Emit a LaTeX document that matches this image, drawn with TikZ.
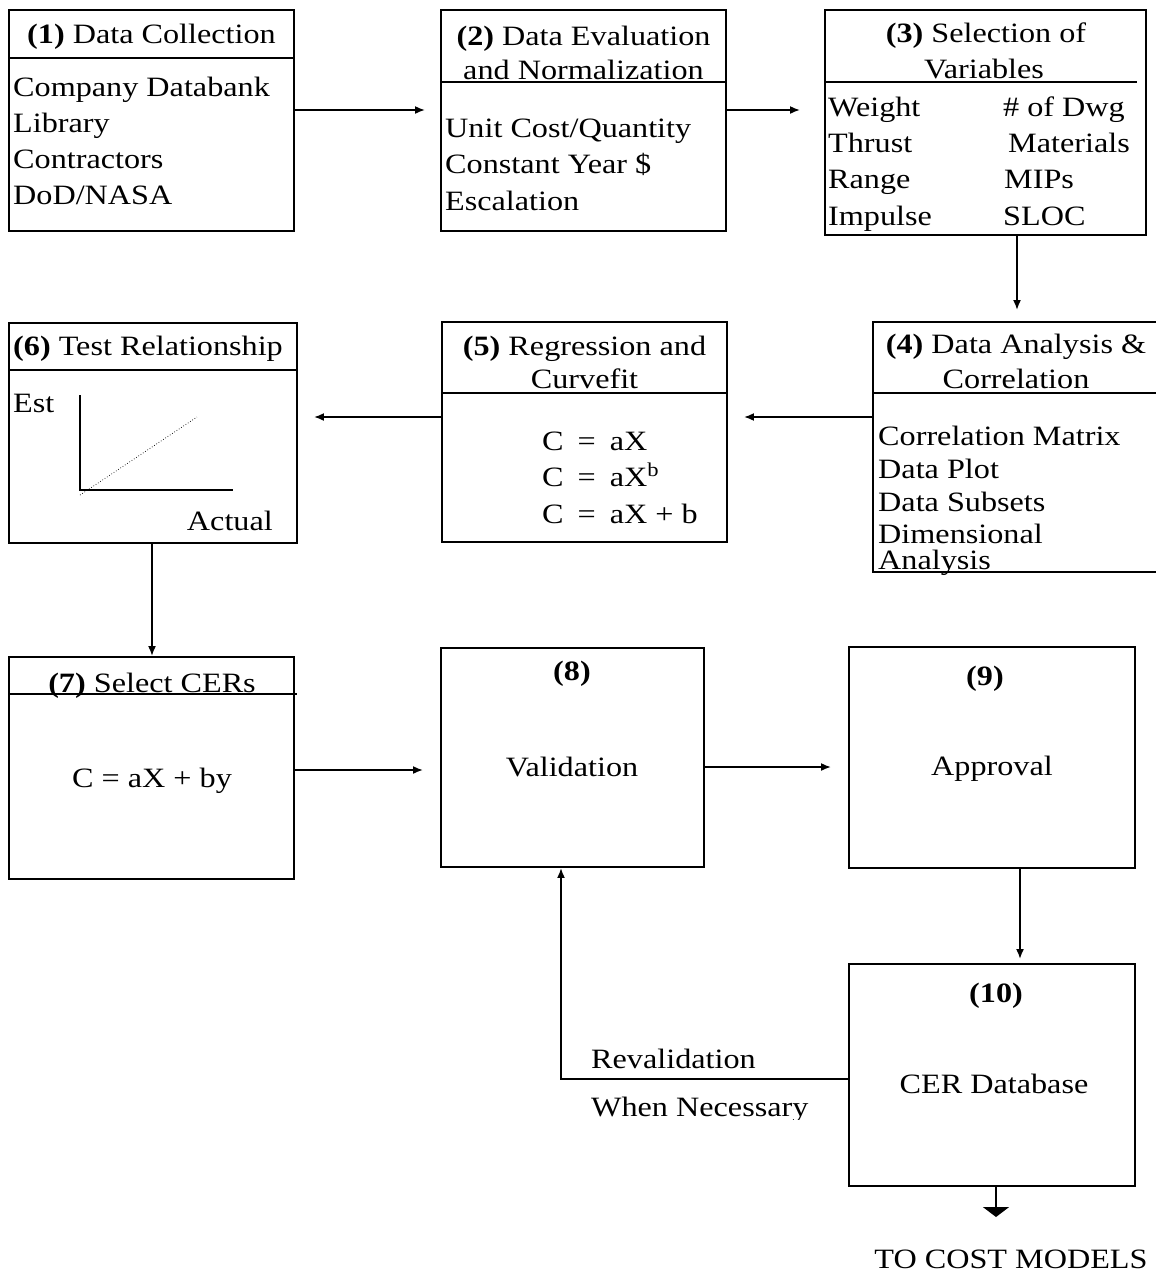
\documentclass[tikz,border=0pt]{standalone}
\usepackage{fontspec}
\setmainfont{Liberation Serif}[FakeStretch=1.15]
\usetikzlibrary{arrows.meta}
\newcommand\fsz{\fontsize{28}{36}\selectfont}
\begin{document}
\begin{tikzpicture}[x=1pt,y=-1pt,
  box/.style={draw,line width=1.9pt,rectangle,inner sep=0pt},
  txt/.style={inner sep=0pt,font=\fsz},
  lt/.style={txt,anchor=base west},
  ct/.style={txt,anchor=base},
  divline/.style={line width=1.7pt},
  arr/.style={line width=1.8pt,-{Latex[length=10pt,width=8pt]}}]
\useasboundingbox (0,0) rectangle (1156,1272);

% ---------- boxes ----------
\node[box,minimum width=285pt,minimum height=221pt] (b1) at (151.5,120.5) {};
\node[box,minimum width=285pt,minimum height=221pt] (b2) at (583.5,120.5) {};
\node[box,minimum width=321pt,minimum height=225pt] (b3) at (985.5,122.5) {};
\node[box,minimum width=287pt,minimum height=250pt] (b4) at (1016.5,447) {};
\node[box,minimum width=285pt,minimum height=220pt] (b5) at (584.5,432) {};
\node[box,minimum width=288pt,minimum height=220pt] (b6) at (153,433) {};
\node[box,minimum width=285pt,minimum height=222pt] (b7) at (151.5,768) {};
\node[box,minimum width=263pt,minimum height=219pt] (b8) at (572.5,757.5) {};
\node[box,minimum width=286pt,minimum height=221pt] (b9) at (992,757.5) {};
\node[box,minimum width=286pt,minimum height=222pt] (b10) at (992,1075) {};

% ---------- dividers ----------
\draw[divline] (b1.west |- 0,58) -- (b1.east |- 0,58);
\draw[divline] (b2.west |- 0,82) -- (b2.east |- 0,82);
\draw[divline] (b3.west |- 0,82) -- (1137,82);
\draw[divline] (b4.west |- 0,393) -- (b4.east |- 0,393);
\draw[divline] (b5.west |- 0,393) -- (b5.east |- 0,393);
\draw[divline] (b6.west |- 0,370) -- (b6.east |- 0,370);
\draw[divline] (b7.west |- 0,694) -- (297,694);

% ---------- box 1 ----------
\node[ct] (t1) at (151.5,43) {\textbf{(1)} Data Collection};
\node[lt] (t1a) at (13,96) {Company Databank};
\node[lt] (t1b) at (13,132) {Library};
\node[lt] (t1c) at (13,168) {Contractors};
\node[lt] (t1d) at (13,204) {DoD/NASA};

% ---------- box 2 ----------
\node[ct] (t2) at (583.5,45) {\textbf{(2)} Data Evaluation};
\node[ct] (t2x) at (583.5,79) {and Normalization};
\node[lt] (t2a) at (445,137) {Unit Cost/Quantity};
\node[lt] (t2b) at (445,173) {Constant Year \$};
\node[lt] (t2c) at (445,210) {Escalation};

% ---------- box 3 ----------
\node[ct] (t3) at (986,42) {\textbf{(3)} Selection of};
\node[ct] (t3x) at (984,78) {Variables};
\node[lt] (t3a) at (828,116) {Weight};
\node[lt] (t3b) at (828,152) {Thrust};
\node[lt] (t3c) at (828,188) {Range};
\node[lt] (t3d) at (828,225) {Impulse};
\node[lt] (t3e) at (1003,116) {\# of Dwg};
\node[lt] (t3f) at (1008,152) {Materials};
\node[lt] (t3g) at (1004,188) {MIPs};
\node[lt] (t3h) at (1003,225) {SLOC};

% ---------- box 4 ----------
\node[ct] (t4) at (1016,353) {\textbf{(4)} Data Analysis \&};
\node[ct] (t4x) at (1016,388) {Correlation};
\node[lt] (t4a) at (878,445) {Correlation Matrix};
\node[lt] (t4b) at (878,478) {Data Plot};
\node[lt] (t4c) at (878,511) {Data Subsets};
\node[lt,text depth=0pt] (t4d) at (878,543) {Dimensional};
\node[lt,text height=18pt] (t4e) at (878,569) {Analysis};

% ---------- box 5 ----------
\node[ct] (t5) at (584.5,355) {\textbf{(5)} Regression and};
\node[ct] (t5x) at (584.5,388) {Curvefit};
\node[lt] (t5a) at (542,450) {C\enspace=\enspace aX};
\node[lt] (t5b) at (542,486) {C\enspace=\enspace aX\textsuperscript{b}};
\node[lt] (t5c) at (542,523) {C\enspace=\enspace aX + b};

% ---------- box 6 ----------
\node[lt] (t6) at (13,355) {\textbf{(6)} Test Relationship};
\node[lt] (t6a) at (13,412) {Est};
\node[txt,anchor=base east] (t6b) at (273,530) {Actual};
\draw[line width=2.8pt] (80,395) -- (80,490) -- (233,490);
\draw[line width=0.7pt,dotted] (80,495) -- (197,417);

% ---------- box 7 ----------
\node[ct] (t7) at (152,692) {\textbf{(7)} Select CERs};
\node[ct] (t7a) at (152,787) {C = aX + by};

% ---------- box 8, 9, 10 ----------
\node[ct] (t8) at (572,680) {\textbf{(8)}};
\node[ct] (t8a) at (572,776) {Validation};
\node[ct] (t9) at (985,685) {\textbf{(9)}};
\node[ct] (t9a) at (992,775) {Approval};
\node[ct] (t10) at (996,1002) {\textbf{(10)}};
\node[ct] (t10a) at (994,1093) {CER Database};

% ---------- connectors ----------
\draw[arr,shorten >=15pt] ([yshift=10.5pt]b1.east) -- ([yshift=10.5pt]b1.east -| b2.west);
\draw[arr,shorten >=24pt] ([yshift=10.5pt]b2.east) -- ([yshift=10.5pt]b2.east -| b3.west);
\draw[arr,shorten >=11pt] ([xshift=31.5pt]b3.south) -- ([xshift=31.5pt]b3.south |- b4.north);
\draw[arr,shorten >=16pt] ([yshift=30pt]b4.west) -- ([yshift=30pt]b4.west -| b5.east);
\draw[arr,shorten >=16pt] ([yshift=15pt]b5.west) -- ([yshift=15pt]b5.west -| b6.east);
\draw[arr] ([xshift=-1pt]b6.south) -- ([xshift=-1pt]b6.south |- b7.north);
\draw[arr,shorten >=17pt] ([yshift=-2pt]b7.east) -- ([yshift=-2pt]b7.east -| b8.west);
\draw[arr,shorten >=17pt] ([yshift=-9.5pt]b8.east) -- ([yshift=-9.5pt]b8.east -| b9.west);
\draw[arr,shorten >=4pt] ([xshift=28pt]b9.south) -- ([xshift=28pt]b9.south |- b10.north);

\coordinate (fb) at (561,1079);
\draw[arr] ([yshift=-4pt]b10.west) -- (fb) -- (fb |- b8.south);
\node[lt] (rv) at (591,1068) {Revalidation};
\begin{scope}
  \clip (500,1090) rectangle (845,1119);
  \node[lt] (wn) at (591,1116) {When Necessary};
\end{scope}

\coordinate (out) at (996,1217);
\draw[line width=1.8pt,-{Triangle[length=10pt,width=26pt]}] ([xshift=4pt]b10.south) -- (out);
\node[ct] (toc) at (1011,1268) {TO COST MODELS};
\end{tikzpicture}
\end{document}
